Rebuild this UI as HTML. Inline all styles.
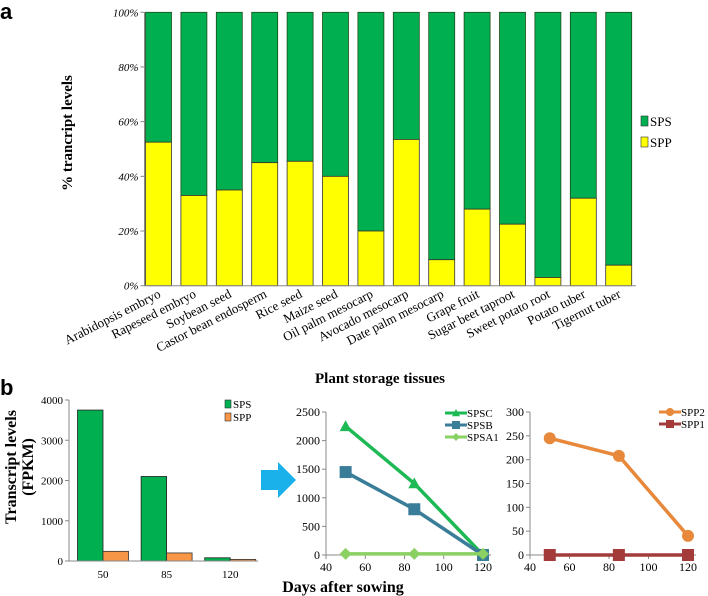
<!DOCTYPE html>
<html><head><meta charset="utf-8"><style>
body{margin:0;background:#fff;}
svg{display:block;font-family:"Liberation Serif",serif;}
</style></head><body>
<svg id="fig" width="708" height="596" viewBox="0 0 708 596">
<text x="0" y="19" font-family="Liberation Sans, sans-serif" font-weight="bold" font-size="22">a</text>
<text x="0" y="395" font-family="Liberation Sans, sans-serif" font-weight="bold" font-size="22">b</text>
<g id="chartA"></g>
<text transform="translate(72,133) rotate(-90)" text-anchor="middle" font-weight="bold" font-size="15">% trancript levels</text>
<text x="380" y="383" text-anchor="middle" font-weight="bold" font-size="15">Plant storage tissues</text>
<g id="chartB"></g>
<text transform="translate(16,467) rotate(-90)" text-anchor="middle" font-weight="bold" font-size="16">Transcript levels</text>
<text transform="translate(33,467) rotate(-90)" text-anchor="middle" font-weight="bold" font-size="16">(FPKM)</text>
<path d="M261,470 L278,470 L278,462 L296,480 L278,498 L278,490 L261,490 Z" fill="#1ab0ea"/>
<g id="chartC"></g>
<g id="chartD"></g>
<text x="343" y="592" text-anchor="middle" font-weight="bold" font-size="16">Days after sowing</text>
</svg>
<script>
const tissues=["Arabidopsis embryo","Rapeseed embryo","Soybean seed","Castor bean endosperm","Rice seed","Maize seed","Oil palm mesocarp","Avocado mesocarp","Date palm mesocarp","Grape fruit","Sugar beet taproot","Sweet potato root","Potato tuber","Tigernut tuber"];
const sppPct=[52.5,33,35,45,45.5,40,20,53.5,9.5,28,22.5,3,32,7.5];
const pctTicks=["0%","20%","40%","60%","80%","100%"];
const days=[50,85,120];
const spsFpkm=[3750,2100,80];
const sppFpkm=[240,200,40];
const fpkmTicks=[0,1000,2000,3000,4000];
const spsc=[2250,1250,0];
const spsb=[1450,800,0];
const spsa1=[20,20,20];
const spsTicks=[0,500,1000,1500,2000,2500];
const spp2=[245,208,40];
const spp1=[0,0,0];
const sppTicks=[0,50,100,150,200,250,300];
const dayTicks=[40,60,80,100,120];
const NS="http://www.w3.org/2000/svg";
function mk(p,t,a,txt){const e=document.createElementNS(NS,t);for(const k in a)e.setAttribute(k,a[k]);if(txt!==undefined)e.textContent=txt;p.appendChild(e);return e;}
// Chart A
(function(){
const g=document.getElementById('chartA');
const x0=144.5,x1=636,y0=285.7,y1=12.3,pitch=35.4,bw=26;
const y=v=>y0-(v/100)*(y0-y1);
pctTicks.forEach((t,i)=>{const v=i*20;
const tl=mk(g,'line',{x1:x0-4,x2:x0,y1:y(v),y2:y(v),stroke:'#888'});


const tx=mk(g,'text',{x:x0-6,y:y(v)+4,'text-anchor':'end','font-size':11,'font-style':'italic'},t);

});
tissues.forEach((n,i)=>{const bx=x0+1+i*pitch;const c=bx+bw/2;
const r1=mk(g,'rect',{x:bx,y:y(100),width:bw,height:y(sppPct[i])-y(100),fill:'#00b050',stroke:'#1d4d1d','stroke-width':0.8});


const r2=mk(g,'rect',{x:bx,y:y(sppPct[i]),width:bw,height:y(0)-y(sppPct[i]),fill:'#ffff00',stroke:'#333','stroke-width':0.8});


const t=mk(g,'text',{transform:`translate(${c+3},${y0+11}) rotate(-27)`,'text-anchor':'end','font-size':13},n);

});
const ax=mk(g,'path',{d:`M${x0},${y1} L${x0},${y0} L${x1},${y0}`,fill:'none',stroke:'#888'});


[['SPS','#00b050',121],['SPP','#ffff00',142]].forEach(([n,c,yy])=>{
const s=mk(g,'rect',{x:641,y:yy-5,width:7,height:10,fill:c,stroke:'#333','stroke-width':0.6});


const t=mk(g,'text',{x:650,y:yy+5,'font-size':13},n);

});
})();
// Chart B
(function(){
const g=document.getElementById('chartB');
const x0=69,x1=258,y0=561,y1=400,bw=25.5,pitch=63.6,first=103;
const y=v=>y0-(v/4000)*(y0-y1);
fpkmTicks.forEach(v=>{
const tl=mk(g,'line',{x1:x0-4,x2:x0,y1:y(v),y2:y(v),stroke:'#888'});


const t=mk(g,'text',{x:x0-6,y:y(v)+4,'text-anchor':'end','font-size':11},v);

});
days.forEach((d,i)=>{const c=first+i*pitch;
const r1=mk(g,'rect',{x:c-bw,y:y(spsFpkm[i]),width:bw,height:y(0)-y(spsFpkm[i]),fill:'#00b050',stroke:'#222','stroke-width':0.8});


const r2=mk(g,'rect',{x:c,y:y(sppFpkm[i]),width:bw,height:y(0)-y(sppFpkm[i]),fill:'#f79646',stroke:'#333','stroke-width':0.8});


const t=mk(g,'text',{x:c,y:578,'text-anchor':'middle','font-size':11},d);

});
const ax=mk(g,'path',{d:`M${x0},${y1} L${x0},${y0} L${x1},${y0}`,fill:'none',stroke:'#888'});


[['SPS','#00b050',404],['SPP','#f79646',417]].forEach(([n,c,yy])=>{
const s=mk(g,'rect',{x:225,y:yy-4,width:6,height:8,fill:c,stroke:'#333','stroke-width':0.6});


const t=mk(g,'text',{x:233,y:yy+4,'font-size':11},n);

});
})();
function marker(g,shape,cx,cy,c,s){
if(shape==='tri')return mk(g,'path',{d:`M${cx},${cy-s} L${cx+s},${cy+s*0.8} L${cx-s},${cy+s*0.8} Z`,fill:c});
if(shape==='sq')return mk(g,'rect',{x:cx-s,y:cy-s,width:2*s,height:2*s,fill:c});
if(shape==='dia')return mk(g,'path',{d:`M${cx},${cy-s} L${cx+s},${cy} L${cx},${cy+s} L${cx-s},${cy} Z`,fill:c});
return mk(g,'circle',{cx:cx,cy:cy,r:s,fill:c});}
function lineChart(id,x0,x1,y0,y1,ymax,ticks,series,lx,ly){
const g=document.getElementById(id);
const x=v=>x0+(v-40)/80*(x1-x0);
const y=v=>y0-(v/ymax)*(y0-y1);
ticks.forEach(v=>{
const tl=mk(g,'line',{x1:x0-4,x2:x0,y1:y(v),y2:y(v),stroke:'#888'});


const t=mk(g,'text',{x:x0-6,y:y(v)+4,'text-anchor':'end','font-size':12},v);

});
dayTicks.forEach(v=>{
const tl=mk(g,'line',{x1:x(v),x2:x(v),y1:y0,y2:y0+4,stroke:'#888'});


const t=mk(g,'text',{x:x(v),y:y0+16,'text-anchor':'middle','font-size':12},v);

});
const ax=mk(g,'path',{d:`M${x0},${y1} L${x0},${y0} L${x1+8},${y0}`,fill:'none',stroke:'#888'});


series.forEach(([name,vals,c,shape],si)=>{
const p=mk(g,'polyline',{points:days.map((d,i)=>x(d)+','+y(vals[i])).join(' '),fill:'none',stroke:c,'stroke-width':3.5});


days.forEach((d,i)=>{const m=marker(g,shape,x(d),y(vals[i]),c,6);

});
const yy=ly+si*12;
const ll=mk(g,'line',{x1:lx,x2:lx+22,y1:yy,y2:yy,stroke:c,'stroke-width':3});


const lm=marker(g,shape,lx+11,yy,c,4);


const t=mk(g,'text',{x:lx+22,y:yy+4,'font-size':11},name);

});}
lineChart('chartC',326,483,555,412,2500,spsTicks,[['SPSC',spsc,'#1db954','tri'],['SPSB',spsb,'#3a7d99','sq'],['SPSA1',spsa1,'#8bd062','dia']],445,413);
lineChart('chartD',530,688,555,412,300,sppTicks,[['SPP2',spp2,'#e8883a','circ'],['SPP1',spp1,'#a33b3b','sq']],659,412);
</script>
</body></html>
